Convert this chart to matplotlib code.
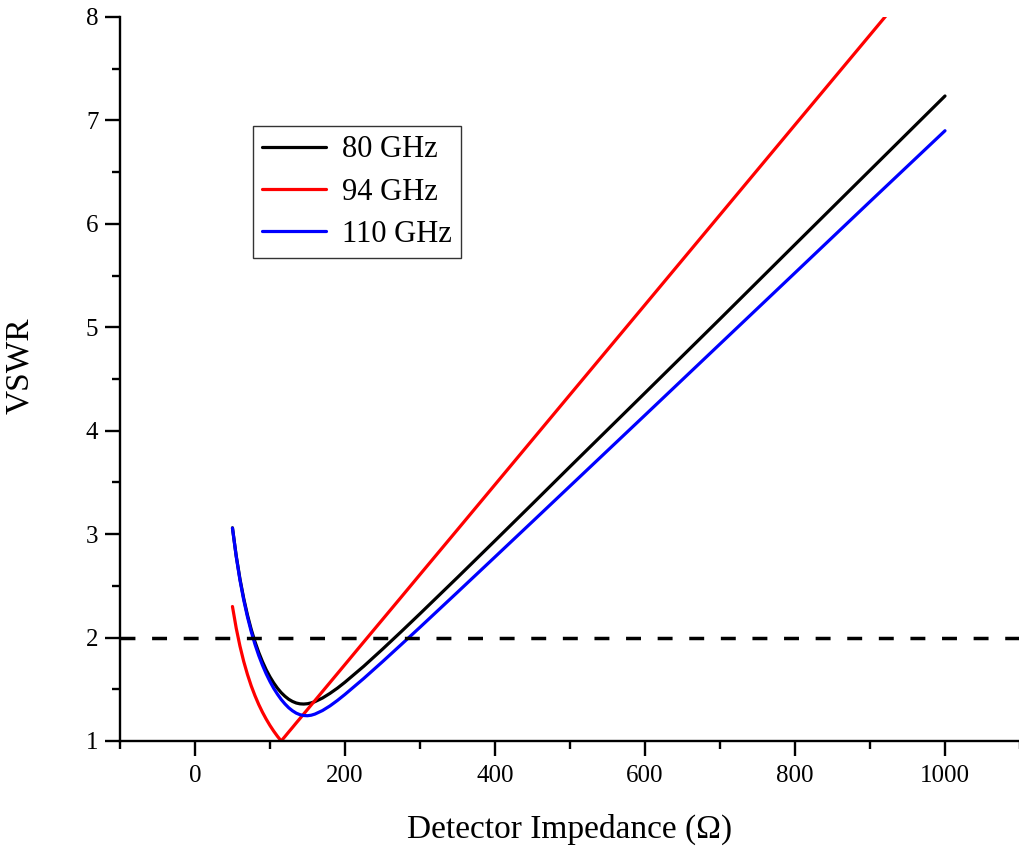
import matplotlib
matplotlib.use('Agg')
import matplotlib.pyplot as plt
from matplotlib.ticker import MultipleLocator

# Detector impedance (Ohm) and VSWR
impedance = [50, 55, 60, 65, 70, 75, 80, 85, 90, 95, 100, 105, 110, 115, 120, 125, 130, 135, 140,
             145, 150, 155, 160, 170, 180, 190, 200, 225, 250, 275, 300, 350, 400, 450, 500,
             600, 700, 800, 900, 1000]
vswr_80 = [3.061, 2.790, 2.566, 2.378, 2.217, 2.079, 1.960, 1.857, 1.767, 1.688, 1.620, 1.561, 1.510,
           1.467, 1.432, 1.403, 1.382, 1.367, 1.359, 1.357, 1.360, 1.368, 1.380, 1.415, 1.460, 1.511,
           1.568, 1.722, 1.887, 2.057, 2.230, 2.581, 2.936, 3.293, 3.652, 4.365, 5.080, 5.800, 6.518, 7.236]
vswr_94 = [2.300, 2.091, 1.917, 1.769, 1.643, 1.533, 1.438, 1.353, 1.278, 1.211, 1.150, 1.095, 1.045,
           1.000, 1.043, 1.087, 1.130, 1.174, 1.217, 1.261, 1.304, 1.348, 1.391, 1.478, 1.565, 1.652,
           1.739, 1.957, 2.174, 2.391, 2.609, 3.043, 3.478, 3.913, 4.348, 5.217, 6.087, 6.957, 7.826, 8.696]
vswr_110 = [3.058, 2.784, 2.556, 2.364, 2.200, 2.058, 1.935, 1.827, 1.733, 1.649, 1.575, 1.509, 1.452,
            1.401, 1.358, 1.321, 1.292, 1.269, 1.254, 1.246, 1.244, 1.249, 1.260, 1.294, 1.339, 1.392,
            1.450, 1.604, 1.766, 1.932, 2.099, 2.438, 2.779, 3.121, 3.464, 4.150, 4.838, 5.526, 6.215, 6.900]
labels = ['80 GHz', '94 GHz', '110 GHz']
colors = ['black', 'red', 'blue']
vswr_limit = 2

plt.rcParams['font.family'] = ['Liberation Serif', 'DejaVu Serif']

fig = plt.figure(figsize=(10.2, 8.57), dpi=100)
ax = fig.add_axes([0.1176, 0.1354, 0.8824, 0.8448])

for v, lab, c in zip([vswr_80, vswr_94, vswr_110], labels, colors):
    ax.plot(impedance, v, color=c, lw=2.3, label=lab, solid_capstyle='round')
ax.axhline(vswr_limit, color='black', lw=2.5, dashes=(4.3, 4.8))

ax.set_xlim(-100, 1100)
ax.set_ylim(1, 8)
ax.xaxis.set_major_locator(MultipleLocator(200))
ax.xaxis.set_minor_locator(MultipleLocator(100))
ax.yaxis.set_major_locator(MultipleLocator(1))
ax.yaxis.set_minor_locator(MultipleLocator(0.5))

for s in ['top', 'right']:
    ax.spines[s].set_visible(False)
for s in ['left', 'bottom']:
    ax.spines[s].set_linewidth(1.7)

ax.tick_params(which='major', direction='out', length=10.5, width=1.7, labelsize=18)
ax.tick_params(axis='x', which='major', pad=7)
ax.tick_params(axis='y', which='major', pad=5)
ax.tick_params(which='minor', direction='out', length=5.5, width=1.7)

ax.set_xlabel('Detector Impedance (\u03a9)', fontsize=24)
ax.xaxis.set_label_coords(0.5, -0.1)
ax.set_ylabel('VSWR', fontsize=24)
ax.yaxis.set_label_coords(-0.094, 0.519)

leg = ax.legend(loc='upper left', bbox_to_anchor=(0.148, 0.849), borderaxespad=0,
                fontsize=22, frameon=True, fancybox=False, handlelength=2.1,
                handletextpad=0.5, labelspacing=0.43, borderpad=0.3)
leg.get_frame().set_edgecolor('black')
leg.get_frame().set_linewidth(1.0)

fig.savefig('out.png')
